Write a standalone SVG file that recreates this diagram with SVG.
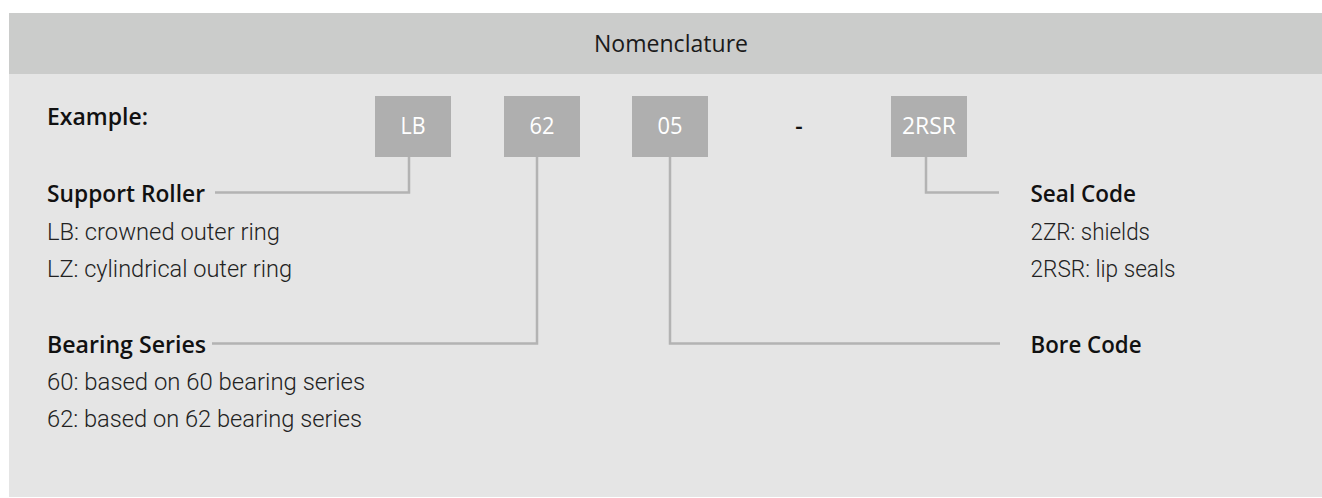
<svg xmlns="http://www.w3.org/2000/svg" width="1322" height="498" viewBox="0 0 1322 498">
  <style>
    .hdr { font-family: "Open Sans", "Liberation Sans", sans-serif; font-size: 23px; fill: #1a1a1a; }
    .lbl { font-family: "Open Sans", "Liberation Sans", sans-serif; font-size: 23px; font-weight: 600; fill: #111111; }
    .desc { font-family: "Roboto", "Open Sans", "Liberation Sans", sans-serif; font-size: 23px; font-weight: 300; fill: #222222; }
    .code { font-family: "Open Sans", "Liberation Sans", sans-serif; font-size: 23px; fill: #ffffff; }
    .box { fill: #afafaf; }
    .conn { fill: none; stroke: #b3b3b3; stroke-width: 2.5; }
  </style>
  <rect x="9" y="13" width="1313" height="484" fill="#e5e5e5"/>
  <rect x="9" y="13" width="1313" height="61" fill="#cbcccb"/>
  <text class="hdr" x="594" y="51.5" textLength="154" lengthAdjust="spacingAndGlyphs">Nomenclature</text>
  <text class="lbl" x="47" y="125" textLength="101" lengthAdjust="spacingAndGlyphs">Example:</text>

  <g id="connectors">
    <path class="conn" d="M409,157 V192.5 H215"/>
    <path class="conn" d="M537,157 V343.5 H212"/>
    <path class="conn" d="M670,157 V343.5 H1000"/>
    <path class="conn" d="M926,157 V192.5 H999"/>
  </g>

  <g id="box-lb">
    <rect class="box" x="375" y="96" width="76" height="61"/>
    <text class="code" x="400.5" y="134" textLength="25" lengthAdjust="spacingAndGlyphs">LB</text>
  </g>
  <g id="box-62">
    <rect class="box" x="504" y="96" width="76" height="61"/>
    <text class="code" x="529.5" y="134" textLength="25" lengthAdjust="spacingAndGlyphs">62</text>
  </g>
  <g id="box-05">
    <rect class="box" x="632" y="96" width="76" height="61"/>
    <text class="code" x="657.5" y="134" textLength="25" lengthAdjust="spacingAndGlyphs">05</text>
  </g>
  <g id="dash">
    <text class="lbl" x="799" y="134" text-anchor="middle">-</text>
  </g>
  <g id="box-2rsr">
    <rect class="box" x="891" y="96" width="76" height="61"/>
    <text class="code" x="902" y="134" textLength="54" lengthAdjust="spacingAndGlyphs">2RSR</text>
  </g>

  <g id="support-roller">
    <text class="lbl" x="47" y="201.5" textLength="158" lengthAdjust="spacingAndGlyphs">Support Roller</text>
    <text class="desc" x="47" y="240" textLength="233" lengthAdjust="spacingAndGlyphs">LB: crowned outer ring</text>
    <text class="desc" x="47" y="277" textLength="245" lengthAdjust="spacingAndGlyphs">LZ: cylindrical outer ring</text>
  </g>
  <g id="bearing-series">
    <text class="lbl" x="47" y="352.5" textLength="159" lengthAdjust="spacingAndGlyphs">Bearing Series</text>
    <text class="desc" x="47" y="390" textLength="318" lengthAdjust="spacingAndGlyphs">60: based on 60 bearing series</text>
    <text class="desc" x="47" y="427" textLength="315" lengthAdjust="spacingAndGlyphs">62: based on 62 bearing series</text>
  </g>
  <g id="seal-code">
    <text class="lbl" x="1030.5" y="201.5" textLength="105.5" lengthAdjust="spacingAndGlyphs">Seal Code</text>
    <text class="desc" x="1030.5" y="239.5" textLength="119.5" lengthAdjust="spacingAndGlyphs">2ZR: shields</text>
    <text class="desc" x="1030.5" y="276.5" textLength="145" lengthAdjust="spacingAndGlyphs">2RSR: lip seals</text>
  </g>
  <g id="bore-code">
    <text class="lbl" x="1030.5" y="352.5" textLength="111" lengthAdjust="spacingAndGlyphs">Bore Code</text>
  </g>
</svg>
